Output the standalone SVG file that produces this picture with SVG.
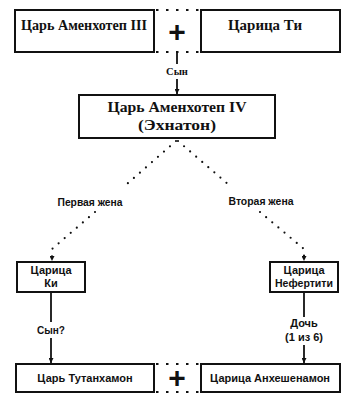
<svg xmlns="http://www.w3.org/2000/svg" width="352" height="400" viewBox="0 0 352 400">
  <style>
    .box { fill: #fff; stroke: #111; stroke-width: 2; }
    .serif { font-family: "Liberation Serif", "Times New Roman", serif; font-weight: bold; fill: #111; text-anchor: middle; }
    .sans { font-family: "Liberation Sans", Arial, sans-serif; font-weight: bold; fill: #111; text-anchor: middle; }
    .solid { stroke: #111; stroke-width: 1.8; fill: none; }
    .dots { stroke: #111; stroke-width: 2.2; fill: none; stroke-dasharray: 0 8; stroke-linecap: round; }
    .hdots { stroke: #111; stroke-width: 2; fill: none; stroke-dasharray: 2.5 7.5; }
    .plus { font-family: "Liberation Sans", Arial, sans-serif; font-weight: bold; font-size: 30px; fill: #111; text-anchor: middle; }
  </style>
  <defs>
    <marker id="arr" viewBox="0 0 10 10" refX="10" refY="5" markerWidth="5" markerHeight="5" markerUnits="userSpaceOnUse" orient="auto">
      <path d="M0,0 L10,5 L0,10 z" fill="#111"/>
    </marker>
  </defs>

  <g id="connectors">
    <line class="hdots" x1="156" y1="10" x2="200" y2="10"/>
    <line class="hdots" x1="156" y1="52" x2="200" y2="52"/>
    <line class="solid" x1="177" y1="53" x2="177" y2="64"/>
    <line class="solid" x1="177" y1="79" x2="177" y2="94" marker-end="url(#arr)"/>
    <text class="serif" x="177" y="75" font-size="10.5">Сын</text>

    <path class="dots" d="M176,141 L127,184"/>
    <path class="dots" d="M95,212 L52,249 L52,261" marker-end="url(#arr)"/>
    <path class="dots" d="M178,141 L229,185"/>
    <path class="dots" d="M260,212 L304,249 L304,261" marker-end="url(#arr)"/>
    <text class="sans" x="90" y="206" font-size="11" textLength="65" lengthAdjust="spacingAndGlyphs">Первая жена</text>
    <text class="sans" x="261" y="205" font-size="11" textLength="65" lengthAdjust="spacingAndGlyphs">Вторая жена</text>

    <line class="solid" x1="51" y1="292" x2="51" y2="322"/>
    <line class="solid" x1="51" y1="338" x2="51" y2="363" marker-end="url(#arr)"/>
    <text class="sans" x="51" y="334" font-size="11" textLength="28" lengthAdjust="spacingAndGlyphs">Сын?</text>

    <line class="solid" x1="304" y1="292" x2="304" y2="317"/>
    <line class="solid" x1="304" y1="345" x2="304" y2="363" marker-end="url(#arr)"/>
    <text class="sans" x="304" y="327" font-size="11">Дочь</text>
    <text class="sans" x="304" y="341" font-size="11">(1 из 6)</text>

    <line class="hdots" x1="156" y1="364" x2="200" y2="364"/>
    <line class="hdots" x1="156" y1="392" x2="200" y2="392"/>
  </g>

  <g id="amenhotep3">
    <rect class="box" x="15" y="10" width="139" height="42"/>
    <text class="serif" x="84" y="30" font-size="14" textLength="126" lengthAdjust="spacingAndGlyphs">Царь Аменхотеп III</text>
  </g>
  <g id="plus-top">
    <text class="plus" x="177" y="42">+</text>
  </g>
  <g id="tiye">
    <rect class="box" x="201" y="10" width="139" height="42"/>
    <text class="serif" x="265" y="30" font-size="14" textLength="74" lengthAdjust="spacingAndGlyphs">Царица Ти</text>
  </g>

  <g id="akhenaten">
    <rect class="box" x="79" y="95" width="196" height="43"/>
    <text class="serif" x="177" y="112" font-size="15.5" textLength="139" lengthAdjust="spacingAndGlyphs">Царь Аменхотеп IV</text>
    <text class="serif" x="177" y="130" font-size="15.5" textLength="78" lengthAdjust="spacingAndGlyphs">(Эхнатон)</text>
  </g>

  <g id="kiya">
    <rect class="box" x="17" y="262" width="68" height="30"/>
    <text class="sans" x="51" y="274" font-size="11">Царица</text>
    <text class="sans" x="51" y="287" font-size="11">Ки</text>
  </g>

  <g id="nefertiti">
    <rect class="box" x="270" y="262" width="68" height="30"/>
    <text class="sans" x="304" y="274" font-size="11">Царица</text>
    <text class="sans" x="304" y="287" font-size="11" textLength="58" lengthAdjust="spacingAndGlyphs">Нефертити</text>
  </g>

  <g id="tutankhamun">
    <rect class="box" x="16" y="364" width="138" height="28"/>
    <text class="sans" x="85" y="382" font-size="11">Царь Тутанхамон</text>
  </g>
  <g id="plus-bottom">
    <text class="plus" x="177" y="388">+</text>
  </g>
  <g id="ankhesenamun">
    <rect class="box" x="201" y="364" width="139" height="28"/>
    <text class="sans" x="270" y="382" font-size="11">Царица Анхешенамон</text>
  </g>
</svg>
